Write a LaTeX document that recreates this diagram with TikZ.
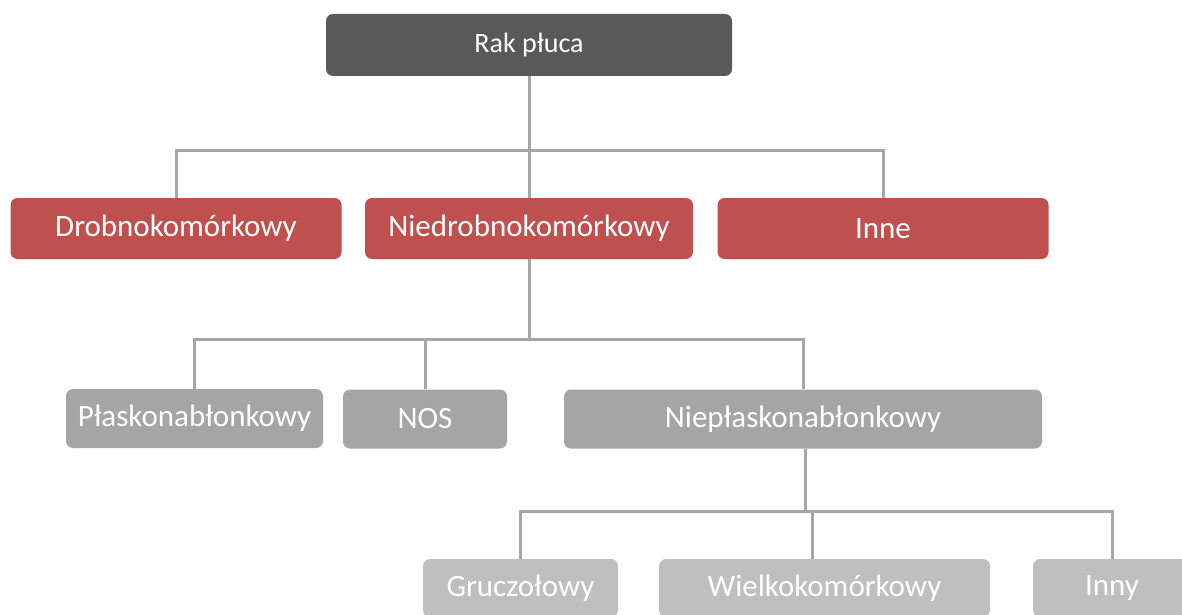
\documentclass[tikz,border=0pt]{standalone}
\usepackage{fontspec}
\setmainfont{Carlito}
\definecolor{topgray}{HTML}{595959}
\definecolor{redbox}{HTML}{C0504D}
\definecolor{midgray}{HTML}{A5A5A5}
\definecolor{lightgray}{HTML}{BFBFBF}
\definecolor{linegray}{HTML}{A6A6A6}
\begin{document}
\begin{tikzpicture}[x=1pt,y=-1pt,
  box/.style={rectangle,rounded corners=7pt,text=white,inner sep=0pt,
    font=\fontsize{31}{36}\selectfont,minimum height=61pt},
  topbox/.style={box,fill=topgray,font=\fontsize{28}{33}\selectfont,minimum height=62pt},
  redb/.style={box,fill=redbox},
  midb/.style={box,fill=midgray,minimum height=59pt},
  lowb/.style={box,fill=lightgray,minimum height=58pt},
  conn/.style={draw=linegray,line width=3pt}]
\useasboundingbox (0,0) rectangle (1182,615);
\clip (0,0) rectangle (1182,615);
% nodes
\node[topbox,minimum width=406pt] (top) at (529,45) {Rak płuca};
\node[redb,minimum width=331pt] (drob) at (176,228.5) {Drobnokomórkowy};
\node[redb,minimum width=328pt] (niedr) at (529,228.5) {Niedrobnokomórkowy};
\node[redb,minimum width=331pt] (inne) at (883,228.5) {Inne};
\node[midb,minimum width=257pt] (plask) at (194.5,418.5) {Płaskonabłonkowy};
\node[midb,minimum width=164pt] (nos) at (425,419) {NOS};
\node[midb,minimum width=478pt] (niep) at (803,419) {Niepłaskonabłonkowy};
\node[lowb,minimum width=195pt] (grucz) at (520.5,588) {Gruczołowy};
\node[lowb,minimum width=331pt] (wielk) at (824.5,588) {Wielkokomórkowy};
\node[lowb,minimum width=158pt] (inny) at (1112,588) {Inny};
% bus coordinates
\coordinate (b1) at (529,150);
\coordinate (b2) at (528,339);
\coordinate (b3) at (805,511);
\coordinate (wtop) at ([xshift=-12pt]wielk.north);
% connectors
\draw[conn] (top.south) -- (niedr.north);
\draw[conn] (drob.north) -- (drob.north |- b1) -- (inne.north |- b1) -- (inne.north);
\draw[conn] (niedr.south) -- (niedr.south |- b2);
\draw[conn] (plask.north) -- (plask.north |- b2) -- (niep.north |- b2) -- (niep.north);
\draw[conn] (nos.north) -- (nos.north |- b2);
\draw[conn] ([xshift=2pt]niep.south) -- ([xshift=2pt]niep.south |- b3);
\draw[conn] (grucz.north) -- (grucz.north |- b3) -- (inny.north |- b3) -- (inny.north);
\draw[conn] (wtop) -- (wtop |- b3);
\end{tikzpicture}
\end{document}
